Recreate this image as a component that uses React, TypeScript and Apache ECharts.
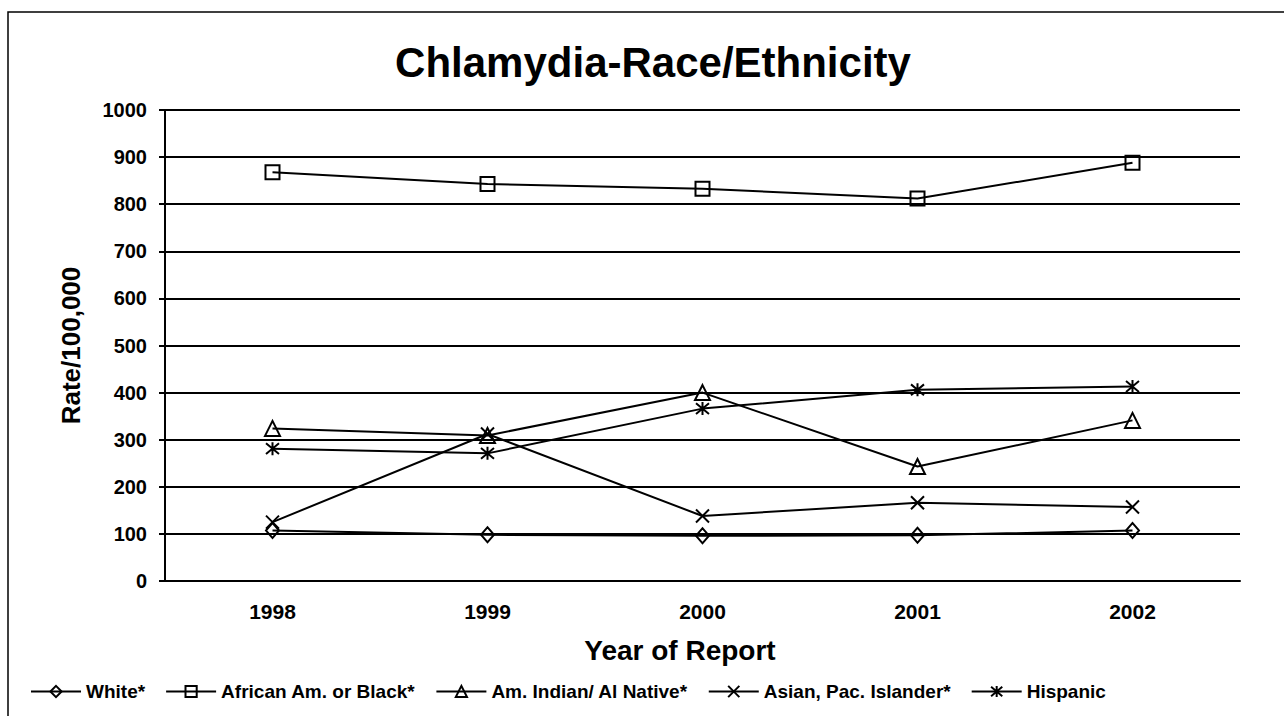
import React, { useEffect, useRef } from "react";
import * as echarts from "echarts";

const years = ["1998", "1999", "2000", "2001", "2002"];
const white = [107, 98, 96, 97, 107];
const black = [868, 843, 833, 812, 888];
const amIndian = [324, 309, 400, 243, 341];
const asian = [125, 312, 138, 166, 157];
const hispanic = [281, 271, 366, 406, 413];
const yTicks = [0, 100, 200, 300, 400, 500, 600, 700, 800, 900, 1000];

const seriesNames = [
  "White*",
  "African Am. or Black*",
  "Am. Indian/ Al Native*",
  "Asian, Pac. Islander*",
  "Hispanic",
];

const FONT = "Liberation Sans";

export default function App() {
  const ref = useRef<HTMLDivElement>(null);
  useEffect(() => {
    document.body.style.margin = "0";
    document.body.style.overflow = "hidden";
    const chart = echarts.init(ref.current!, null, { renderer: "svg" });
    const mk = (name: string, data: number[], symbol: string, size: any) => ({
      name,
      type: "line",
      data,
      symbol,
      symbolSize: size,
      showAllSymbol: true,
      lineStyle: { color: "#000", width: 2 },
      itemStyle: { color: "transparent", borderColor: "#000", borderWidth: 2 },
      emphasis: { disabled: true },
    });
    chart.setOption({
      animation: false,
      backgroundColor: "#fff",
      title: {
        text: "Chlamydia-Race/Ethnicity",
        left: 648,
        top: 36,
        textAlign: "center",
        textStyle: { fontFamily: FONT, fontWeight: "bold", fontSize: 42, color: "#000" },
      },
      grid: { left: 165, right: 44, top: 110, bottom: 135 },
      legend: {
        left: 30,
        top: 682,
        padding: 0,
        itemWidth: 50,
        itemHeight: 14,
        itemGap: 20,
        textStyle: { fontFamily: FONT, fontWeight: "bold", fontSize: 19, color: "#000" },
        data: seriesNames,
      },
      xAxis: {
        type: "category",
        data: years,
        axisLine: { lineStyle: { color: "#000", width: 2 } },
        axisTick: { length: 8, lineStyle: { color: "#000", width: 2 } },
        axisLabel: { fontFamily: FONT, fontWeight: "bold", fontSize: 21, color: "#000", margin: 20 },
      },
      yAxis: {
        type: "value",
        min: yTicks[0],
        max: yTicks[yTicks.length - 1],
        interval: yTicks[1] - yTicks[0],
        name: "Rate/100,000",
        nameLocation: "middle",
        nameGap: 81,
        nameTextStyle: { fontFamily: FONT, fontWeight: "bold", fontSize: 26, color: "#000" },
        axisLine: { show: true, lineStyle: { color: "#000", width: 2 } },
        axisTick: { show: true, length: 6, lineStyle: { color: "#000", width: 2 } },
        axisLabel: {
          fontFamily: FONT,
          fontWeight: "bold",
          fontSize: 20,
          color: "#000",
          margin: 18,
          formatter: (v: number) => String(v),
        },
        splitLine: { lineStyle: { color: "#000", width: 2 } },
      },
      graphic: [
        {
          type: "rect",
          shape: { x: 8, y: 12, width: 1400, height: 800 },
          style: { fill: "none", stroke: "#000", lineWidth: 1.5 },
          silent: true,
        },
        {
          type: "text",
          x: 680,
          y: 650,
          style: {
            text: "Year of Report",
            fontFamily: FONT,
            fontWeight: "bold",
            fontSize: 28,
            fill: "#000",
            align: "center",
            verticalAlign: "middle",
          },
          silent: true,
        },
      ],
      series: [
        mk(seriesNames[0], white, "diamond", [13, 15]),
        mk(seriesNames[1], black, "rect", 14),
        mk(seriesNames[2], amIndian, "triangle", 15),
        mk(seriesNames[3], asian, "path://M0,0L10,10M10,0L0,10", 13),
        mk(seriesNames[4], hispanic, "path://M0,0L10,10M10,0L0,10M5,-1L5,11", 13),
      ],
    });
    return () => chart.dispose();
  }, []);
  return <div ref={ref} style={{ position: "fixed", left: 0, top: 0, width: 1284, height: 716 }} />;
}
